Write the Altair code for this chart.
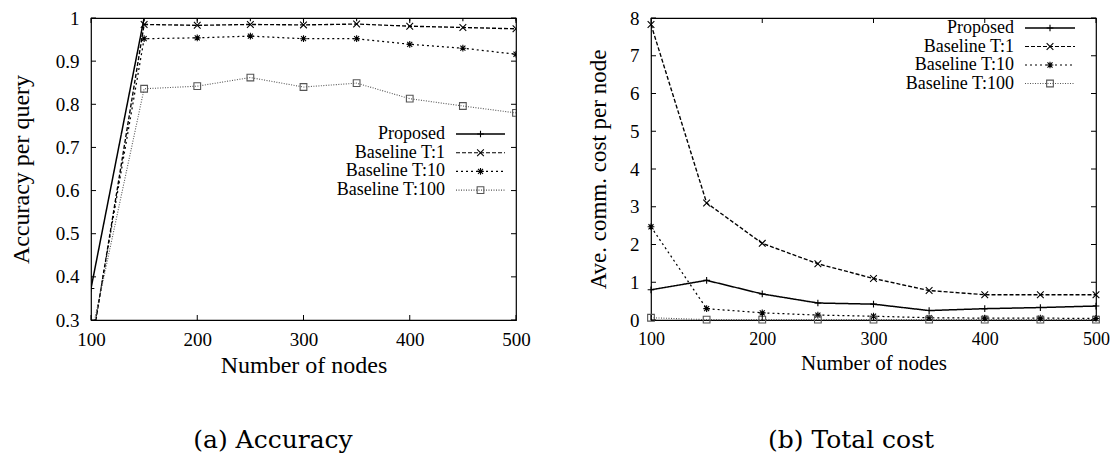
import altair as alt
import pandas as pd

# ---------------- data ----------------
nodes = [100, 150, 200, 250, 300, 350, 400, 450, 500]
series = ["Proposed", "Baseline T:1", "Baseline T:10", "Baseline T:100"]

acc_proposed = [0.373, 1.0, 1.0, 1.0, 1.0, 1.0, 1.0, 1.0, 1.0]
acc_t1 = [0.23, 0.985, 0.983, 0.985, 0.984, 0.986, 0.981, 0.978, 0.975]
acc_t10 = [0.24, 0.952, 0.954, 0.958, 0.952, 0.952, 0.939, 0.930, 0.916]
acc_t100 = [0.26, 0.836, 0.842, 0.862, 0.840, 0.849, 0.813, 0.796, 0.780]

cost_proposed = [0.80, 1.05, 0.69, 0.45, 0.42, 0.25, 0.30, 0.33, 0.37]
cost_t1 = [7.83, 3.10, 2.03, 1.49, 1.10, 0.78, 0.67, 0.67, 0.67]
cost_t10 = [2.47, 0.30, 0.19, 0.13, 0.10, 0.06, 0.05, 0.05, 0.04]
cost_t100 = [0.06, 0.01, 0.01, 0.01, 0.01, 0.01, 0.01, 0.01, 0.01]

x_ticks = [100, 200, 300, 400, 500]
acc_y_ticks = [0.3, 0.4, 0.5, 0.6, 0.7, 0.8, 0.9, 1.0]
cost_y_ticks = [0, 1, 2, 3, 4, 5, 6, 7, 8]

# ---------------- styles ----------------
FONT = "Liberation Serif"
CAP_FONT = "DejaVu Serif"
dashes = [[1, 0], [4, 2], [2, 3], [1, 1.5]]
colors = ["black", "black", "black", "#555555"]
widths = [1.5, 1.1, 1.1, 1.1]
shapes = [
    "M-1,0L1,0M0,-1L0,1",
    "M-1,-1L1,1M-1,1L1,-1",
    "M-1,0L1,0M0,-1L0,1M-0.75,-0.75L0.75,0.75M-0.75,0.75L0.75,-0.75",
    "square",
]


def long_df(vals):
    rows = []
    for s, v in zip(series, vals):
        for n, y in zip(nodes, v):
            rows.append({"nodes": n, "value": y, "series": s})
    return pd.DataFrame(rows)


def panel(df, ydomain, yticks, ytitle, width, height, clip, fs, xtitle_fs, ytitle_fs,
          legend_pos, caption, caption_pos, y_title_pad, x_label_fs):
    xscale = alt.Scale(domain=[100, 500], nice=False, zero=False)
    yscale = alt.Scale(domain=ydomain, nice=False, zero=False)
    xtitle = "Number of nodes"
    xaxis = alt.Axis(values=x_ticks, title=xtitle, ticks=False, domain=False,
                     grid=False, labelFont=FONT, labelFontSize=x_label_fs, labelColor="black",
                     titleFont=FONT, titleFontSize=xtitle_fs, titleFontWeight="normal",
                     titleColor="black", labelPadding=10, titlePadding=4, format="d",
                     labelFlush=False, labelOverlap=False, tickCount=len(x_ticks))
    yaxis = alt.Axis(values=yticks, title=ytitle, ticks=False, domain=False, grid=False,
                     labelFont=FONT, labelFontSize=fs, labelColor="black",
                     titleFont=FONT, titleFontSize=ytitle_fs, titleFontWeight="normal",
                     titleColor="black", labelPadding=12, titlePadding=y_title_pad,
                     format="~g", labelFlush=False, labelOverlap=False,
                     tickCount=len(yticks))
    color = alt.Color("series:N", scale=alt.Scale(domain=series, range=colors), legend=None)
    X = lambda f: alt.X(f, scale=xscale, axis=xaxis)
    Y = lambda f: alt.Y(f, scale=yscale, axis=yaxis)

    lines = alt.Chart(df).mark_line(clip=clip).encode(
        x=X("nodes:Q"), y=Y("value:Q"),
        color=color,
        strokeDash=alt.StrokeDash("series:N", scale=alt.Scale(domain=series, range=dashes),
                                  legend=None),
        strokeWidth=alt.StrokeWidth("series:N", scale=alt.Scale(domain=series, range=widths),
                                    legend=None),
        detail="series:N",
    )
    points = alt.Chart(df).mark_point(clip=clip, filled=False, size=45, strokeWidth=1.1,
                                      opacity=1).encode(
        x=X("nodes:Q"), y=Y("value:Q"),
        color=color,
        shape=alt.Shape("series:N", scale=alt.Scale(domain=series, range=shapes), legend=None),
    )

    xt = pd.DataFrame({"nodes": x_ticks})
    yt = pd.DataFrame({"value": yticks})
    tick_layers = [
        alt.Chart(yt).mark_rule(color="black", strokeWidth=1).encode(
            y=Y("value:Q"), x=alt.value(0), x2=alt.value(5)),
        alt.Chart(yt).mark_rule(color="black", strokeWidth=1).encode(
            y=Y("value:Q"), x=alt.value(width - 5), x2=alt.value(width)),
        alt.Chart(xt).mark_rule(color="black", strokeWidth=1).encode(
            x=X("nodes:Q"), y=alt.value(height - 5), y2=alt.value(height)),
        alt.Chart(xt).mark_rule(color="black", strokeWidth=1).encode(
            x=X("nodes:Q"), y=alt.value(0), y2=alt.value(5)),
    ]

    tx, lx1, lx2, ly0, lstep = legend_pos
    legend_layers = []
    for i, s in enumerate(series):
        ld = pd.DataFrame({"label": [s]})
        ry = ly0 + i * lstep
        legend_layers.append(alt.Chart(ld).mark_text(
            align="right", baseline="middle", font=FONT, fontSize=18, color="black").encode(
            x=alt.value(tx), y=alt.value(ry), text="label:N"))
        legend_layers.append(alt.Chart(ld).mark_rule(
            color=colors[i], strokeWidth=widths[i], strokeDash=dashes[i]).encode(
            x=alt.value(lx1), x2=alt.value(lx2), y=alt.value(ry)))
        legend_layers.append(alt.Chart(ld).mark_point(
            shape=shapes[i], filled=False, size=45, strokeWidth=1.1, color=colors[i],
            opacity=1).encode(x=alt.value((lx1 + lx2) / 2), y=alt.value(ry)))

    cap = alt.Chart(pd.DataFrame({"cap": [caption]})).mark_text(
        align="center", baseline="alphabetic", font=CAP_FONT, fontSize=25,
        color="black").encode(
        x=alt.value(caption_pos[0]), y=alt.value(caption_pos[1]), text="cap:N")

    return alt.layer(lines, points, *tick_layers, *legend_layers, cap).properties(
        width=width, height=height)


left = panel(long_df([acc_proposed, acc_t1, acc_t10, acc_t100]), [0.3, 1.0], acc_y_ticks,
             "Accuracy per query", 425, 302, True, 19, 24, 24,
             (354, 365, 414, 116, 18.7), "(a) Accuracy", (182, 430), 22, 19)
right = panel(long_df([cost_proposed, cost_t1, cost_t10, cost_t100]), [0, 8], cost_y_ticks,
              "Ave. comm. cost per node", 445, 302, False, 19, 21, 23,
              (363, 374, 424, 10, 18.5), "(b) Total cost", (200, 430), 19, 18)

chart = alt.hconcat(left, right, spacing=135, bounds="flush").configure_view(
    stroke="black", strokeWidth=1.2).properties(padding=0)

chart.save("out.html", embed_options={"renderer": "svg", "actions": False})
